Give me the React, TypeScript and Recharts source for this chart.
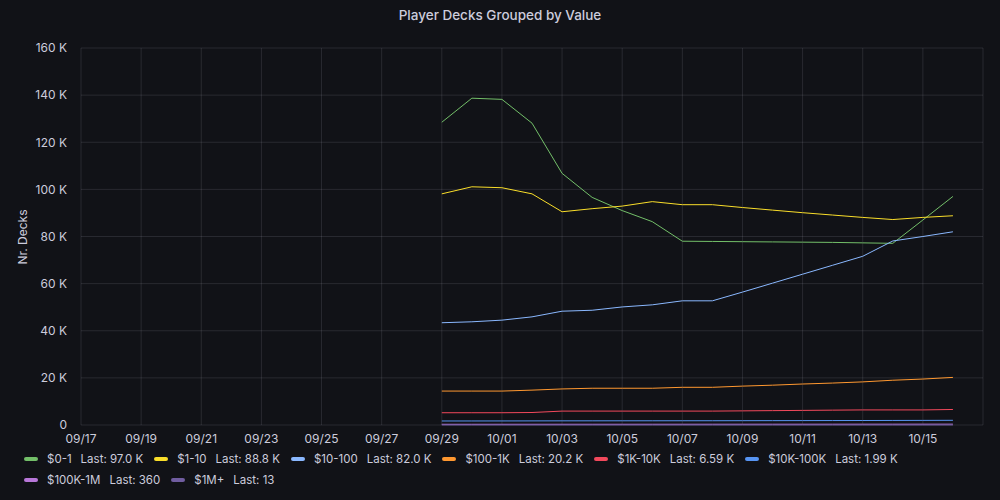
import { LineChart, Line, XAxis, YAxis, CartesianGrid } from 'recharts';

// days shown on the x axis, counted from 09/17
const tickLabels = ['09/17', '09/19', '09/21', '09/23', '09/25', '09/27', '09/29', '10/01', '10/03', '10/05', '10/07', '10/09', '10/11', '10/13', '10/15'];
const dates = ['09/29', '09/30', '10/01', '10/02', '10/03', '10/04', '10/05', '10/06', '10/07', '10/08', '10/09', '10/10', '10/11', '10/12', '10/13', '10/14', '10/15', '10/16'];

const v0to1 = [128500, 138700, 138200, 128100, 106800, 96600, 91000, 86300, 78000, 77900, 77800, 77700, 77600, 77500, 77300, 77100, 87000, 97000];
const v1to10 = [98100, 101100, 100700, 98100, 90500, 91800, 92900, 94800, 93500, 93500, 92300, 91200, 90100, 89100, 88100, 87200, 88100, 88800];
const v10to100 = [43400, 43800, 44500, 45900, 48300, 48700, 50100, 51000, 52700, 52700, 56400, 60200, 64000, 67800, 71600, 78100, 80000, 82000];
const v100to1k = [14400, 14400, 14400, 14800, 15300, 15600, 15600, 15600, 16000, 16000, 16500, 16900, 17400, 17800, 18300, 19000, 19500, 20200];
const v1kto10k = [5200, 5200, 5200, 5300, 5900, 5900, 5900, 5900, 5900, 5900, 6000, 6100, 6200, 6300, 6400, 6400, 6400, 6590];
const v10kto100k = [1700, 1710, 1720, 1740, 1760, 1770, 1780, 1790, 1800, 1810, 1830, 1850, 1870, 1890, 1910, 1930, 1960, 1990];
const v100kto1m = [300, 303, 306, 309, 312, 315, 318, 321, 324, 327, 330, 334, 338, 342, 346, 350, 355, 360];
const v1mPlus = [11, 11, 11, 11, 12, 12, 12, 12, 12, 12, 12, 12, 13, 13, 13, 13, 13, 13];

const yTicks = [0, 20000, 40000, 60000, 80000, 100000, 120000, 140000, 160000];

const series = [
  { key: 'a', name: '$0-1', color: '#73BF69', values: v0to1, last: '97.0 K' },
  { key: 'b', name: '$1-10', color: '#FADE2A', values: v1to10, last: '88.8 K' },
  { key: 'c', name: '$10-100', color: '#8AB8FF', values: v10to100, last: '82.0 K' },
  { key: 'd', name: '$100-1K', color: '#FF9830', values: v100to1k, last: '20.2 K' },
  { key: 'e', name: '$1K-10K', color: '#F2495C', values: v1kto10k, last: '6.59 K' },
  { key: 'f', name: '$10K-100K', color: '#5794F2', values: v10kto100k, last: '1.99 K' },
  { key: 'g', name: '$100K-1M', color: '#B877D9', values: v100kto1m, last: '360' },
  { key: 'h', name: '$1M+', color: '#705DA0', values: v1mPlus, last: '13' },
];

// day offset from 09/17 for a "MM/DD" string
const dayOf = (d: string) => {
  const [m, day] = d.split('/').map(Number);
  return m === 9 ? day - 17 : 13 + day;
};

const data = dates.map((d, i) => {
  const row: Record<string, number> = { day: dayOf(d) };
  series.forEach((s) => { row[s.key] = s.values[i]; });
  return row;
});

const textColor = '#ccccdc';
const font = 'Inter, "Noto Sans", sans-serif';

const fmtY = (v: number) => (v === 0 ? '0' : `${v / 1000} K`);

export default function App() {
  return (
    <div style={{ position: 'fixed', left: 0, top: 0, width: 1000, height: 500, background: '#111217', fontFamily: font, color: textColor }}>
      <div style={{ position: 'absolute', top: 7, width: 1000, textAlign: 'center', fontSize: 13.5, fontWeight: 500 }}>
        Player Decks Grouped by Value
      </div>
      <div style={{ position: 'absolute', left: 22, top: 237, transform: 'translate(-50%, -50%) rotate(-90deg)', fontSize: 12, whiteSpace: 'nowrap' }}>
        Nr. Decks
      </div>
      <LineChart width={1000} height={500} data={data} margin={{ top: 48, right: 17, left: 0, bottom: 51 }} style={{ position: 'absolute', left: 0, top: 0 }}>
        <CartesianGrid stroke="rgba(204,204,220,0.13)" />
        <XAxis
          dataKey="day"
          type="number"
          domain={[0, 30]}
          ticks={tickLabels.map(dayOf)}
          tickFormatter={(v: number) => tickLabels[v / 2]}
          axisLine={false}
          tickLine={false}
          tickSize={0}
          tickMargin={9}
          height={24}
          interval={0}
          tick={{ fill: textColor, fontSize: 12, fontFamily: font }}
        />
        <YAxis
          width={81}
          domain={[0, 160000]}
          ticks={yTicks}
          tickFormatter={fmtY}
          axisLine={false}
          tickLine={false}
          tickSize={0}
          tickMargin={14}
          tick={{ fill: textColor, fontSize: 12, fontFamily: font }}
        />
        {series.map((s) => (
          <Line
            key={s.key}
            dataKey={s.key}
            name={s.name}
            stroke={s.color}
            strokeWidth={1}
            dot={false}
            type="linear"
            isAnimationActive={false}
          />
        ))}
      </LineChart>
      <div style={{ position: 'absolute', left: 24, top: 451, width: 960, display: 'flex', flexWrap: 'wrap', columnGap: 11, rowGap: 5, fontSize: 11.5 }}>
        {series.map((s) => (
          <div key={s.key} style={{ display: 'flex', alignItems: 'center', height: 16 }}>
            <span style={{ display: 'inline-block', width: 14, height: 4, borderRadius: 2, background: s.color, marginRight: 9 }} />
            <span>{s.name}</span>
            <span style={{ marginLeft: 9 }}>Last: {s.last}</span>
          </div>
        ))}
      </div>
    </div>
  );
}
